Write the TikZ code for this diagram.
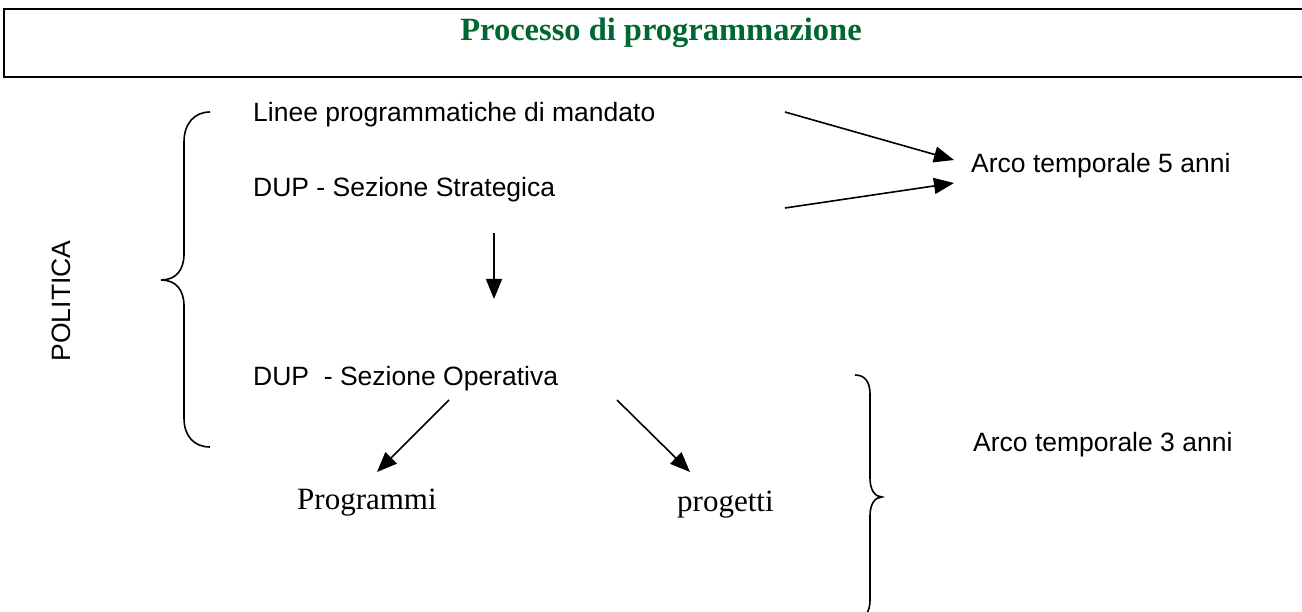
\documentclass[tikz,border=0pt]{standalone}
\usepackage{fontspec}
\setmainfont{Liberation Serif}
\setsansfont{Liberation Sans}
\usetikzlibrary{arrows.meta}
\definecolor{titlegreen}{RGB}{0,102,51}
\begin{document}
\begin{tikzpicture}[x=1pt,y=-1pt,
  lbl/.style={font=\sffamily\fontsize{26.5}{30}\selectfont, inner sep=0, anchor=base west},
  srf/.style={font=\rmfamily\fontsize{31}{34}\selectfont, inner sep=0, anchor=base west},
  arr/.style={line width=1.6pt, -{Triangle[length=20pt,width=16pt]}},
  bracepath/.style={line width=1.6pt}]
\useasboundingbox (0,0) rectangle (1302,612);
\clip (0,0) rectangle (1302,612);
\fill[white] (0,0) rectangle (1302,612);
% title box
\draw[line width=2.2pt] (1310,9) -- (4,9) -- (4,77) -- (1310,77);
\node[font=\rmfamily\bfseries\fontsize{32.5}{36}\selectfont, text=titlegreen, inner sep=0, anchor=base] (title) at (661,41) {Processo di programmazione};
% texts
\node[lbl] (lin) at (253,122) {Linee programmatiche di mandato};
\node[lbl] (dss) at (253,197) {DUP - Sezione Strategica};
\node[lbl] (dso) at (253,385) {DUP\ \ - Sezione Operativa};
\node[lbl] (a5) at (971,173) {Arco temporale 5 anni};
\node[lbl] (a3) at (973,451) {Arco temporale 3 anni};
\node[font=\sffamily\fontsize{26.5}{30}\selectfont, inner sep=0, rotate=90] (pol) at (61,301) {POLITICA};
\node[srf] (prg) at (297,509) {Programmi};
\node[srf] (pro) at (677,511) {progetti};
% connector end points
\coordinate (u1) at (785,112);
\coordinate (u2) at (954,160);
\coordinate (l1) at (785,208);
\coordinate (l2) at (954,183);
\coordinate (d1) at (494,233);
\coordinate (d2) at (494,299);
\coordinate (p1) at (449,400);
\coordinate (p2) at (377,472);
\coordinate (q1) at (617,400);
\coordinate (q2) at (690,472);
\draw[arr] (u1) -- (u2);
\draw[arr] (l1) -- (l2);
\draw[arr] (d1) -- (d2);
\draw[arr] (p1) -- (p2);
\draw[arr] (q1) -- (q2);
% left brace
\draw[bracepath] (210,112) .. controls (194,112) and (184,124) .. (184,142)
  -- (184,254) .. controls (184,270) and (176,280) .. (161,280)
  .. controls (176,280) and (184,290) .. (184,306)
  -- (184,418) .. controls (184,436) and (194,447) .. (210,447);
% right brace
\draw[bracepath] (855,375) .. controls (865,375) and (870,382) .. (870,394)
  -- (870,478) .. controls (870,490) and (875,497) .. (882,497)
  .. controls (875,497) and (870,504) .. (870,516)
  -- (870,600) .. controls (870,612) and (865,619) .. (855,619);
\end{tikzpicture}
\end{document}
